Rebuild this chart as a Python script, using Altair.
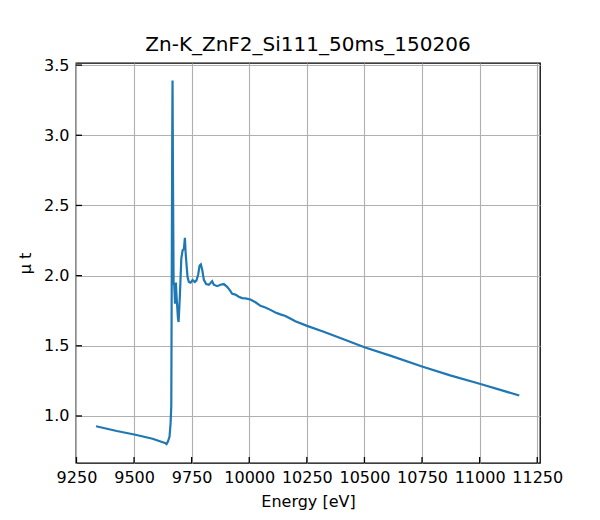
import altair as alt
import pandas as pd

title_text = "Zn-K_ZnF2_Si111_50ms_150206"

energy = [
    9335, 9425, 9506, 9580, 9634, 9641, 9647, 9654, 9658.6, 9661.6,
    9664, 9666, 9667, 9669, 9671.6, 9674.6, 9678, 9681.6, 9684.6, 9690.3,
    9693.3, 9699, 9705, 9710.7, 9716.4, 9720.7, 9723.6, 9727.9, 9732.2, 9737.9,
    9745.2, 9754, 9763.9, 9771, 9778.6, 9784.2, 9790, 9796, 9803, 9813,
    9824.5, 9832, 9839, 9846, 9861, 9875, 9889.5, 9904, 9915.5, 9926,
    9940, 9954.5, 9969, 9983.5, 10005, 10027, 10048.5, 10070, 10092, 10113.5,
    10135, 10157, 10178, 10200, 10251, 10323, 10395, 10500, 10612, 10750,
    10872, 11000, 11172,
]
mu_t = [
    0.927, 0.893, 0.866, 0.838, 0.808, 0.800, 0.818, 0.853, 0.948, 1.07,
    2.2, 3.1, 3.39, 2.7, 1.95, 1.93, 1.80, 1.95, 1.85, 1.70,
    1.67, 1.86, 2.12, 2.18, 2.19, 2.27, 2.17, 2.075, 1.99, 1.955,
    1.95, 1.968, 1.955, 1.966, 2.01, 2.07, 2.08, 2.04, 1.97, 1.94,
    1.935, 1.947, 1.96, 1.935, 1.925, 1.935, 1.94, 1.92, 1.897, 1.87,
    1.865, 1.85, 1.84, 1.838, 1.83, 1.81, 1.785, 1.773, 1.756, 1.738,
    1.724, 1.713, 1.694, 1.675, 1.642, 1.60, 1.555, 1.49, 1.43, 1.353,
    1.289, 1.23, 1.146,
]

x_ticks = [9250, 9500, 9750, 10000, 10250, 10500, 10750, 11000, 11250]
y_ticks = [1.0, 1.5, 2.0, 2.5, 3.0, 3.5]

x_domain = [9248, 11262]
y_domain = [0.665, 3.515]

W, H = 464, 400
FONT = "DejaVu Sans"

df = pd.DataFrame({"E": energy, "mu": mu_t})
xt = pd.DataFrame({"E": x_ticks})
yt = pd.DataFrame({"mu": y_ticks})

xscale = alt.Scale(domain=x_domain, nice=False, zero=False)
yscale = alt.Scale(domain=y_domain, nice=False, zero=False)

xaxis = alt.Axis(title="Energy [eV]", values=x_ticks, format="d",
                 labelPadding=6, titlePadding=8, labelOverlap=False,
                 labelFlush=False, labelBound=False)
yaxis = alt.Axis(title="μ t", values=y_ticks, format=".1f",
                 labelPadding=7, titlePadding=10, labelOverlap=False,
                 labelFlush=False, labelBound=False)

line = alt.Chart(df).mark_line(color="#1f77b4", strokeWidth=2.2, clip=True).encode(
    x=alt.X("E:Q", scale=xscale, axis=xaxis),
    y=alt.Y("mu:Q", scale=yscale, axis=yaxis),
    order=alt.Order("E:Q"),
)

xtick_marks = alt.Chart(xt).mark_rule(color="black", strokeWidth=1.3).encode(
    x=alt.X("E:Q", scale=xscale, axis=xaxis),
    y=alt.value(H),
    y2=alt.value(H - 6),
)

ytick_marks = alt.Chart(yt).mark_rule(color="black", strokeWidth=1.3).encode(
    y=alt.Y("mu:Q", scale=yscale, axis=yaxis),
    x=alt.value(0),
    x2=alt.value(6),
)

chart = alt.layer(line, xtick_marks, ytick_marks).properties(
    width=W, height=H,
    title=alt.TitleParams(title_text, font=FONT, fontSize=20, fontWeight="normal",
                          color="black", offset=2),
    autosize=alt.AutoSizeParams(type="none"),
    padding={"left": 68, "top": 55, "right": 40, "bottom": 57},
).configure_view(
    stroke="black", strokeWidth=1.3
).configure_axis(
    grid=True, gridColor="#b0b0b0", gridWidth=1.1, gridOpacity=1,
    domain=False, ticks=False,
    labelFont=FONT, labelFontSize=16, labelColor="black",
    titleFont=FONT, titleFontSize=16, titleFontWeight="normal", titleColor="black",
)

chart.save("out.html", embed_options={"renderer": "svg", "actions": False})
